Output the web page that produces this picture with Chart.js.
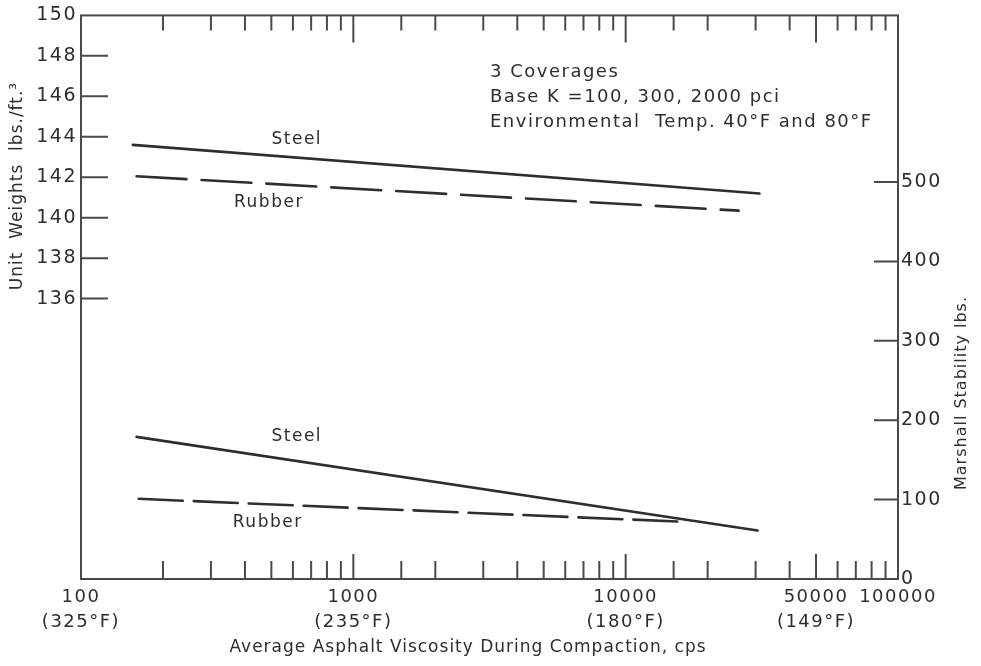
<!DOCTYPE html>
<html lang="en">
<head>
<meta charset="UTF-8">
<title>Unit Weight and Marshall Stability vs Asphalt Viscosity</title>
<script src="https://cdn.jsdelivr.net/npm/chart.js"></script>
<style>
  body { margin: 0; background: #fff; }
  canvas { display: block; }
</style>
</head>
<body>
<canvas id="viscChart" width="981" height="666"></canvas>
<script>
// viscosity (cps) at both ends of each line
const weightSteelX = [155, 31000];
const weightSteelY = [143.6, 141.2];      // unit weight, lbs/ft3
const weightRubberX = [160, 26000];
const weightRubberY = [142.05, 140.35];

const stabSteelX = [160, 30500];
const stabSteelY = [179, 61];             // marshall stability, lbs
const stabRubberX = [163, 16500];
const stabRubberY = [101, 72];

// labelled viscosities along the bottom, with the compaction temperature
const xTickValues = [100, 1000, 10000, 50000, 100000];
const xTickLabels = [['100', '(325°F)'], ['1000', '(235°F)'], ['10000', '(180°F)'], ['50000', '(149°F)'], ['100000']];
const weightTicks = [136, 138, 140, 142, 144, 146, 148, 150];
const stabTicks = [0, 100, 200, 300, 400, 500];

const notes = ['3 Coverages', 'Base K =100, 300, 2000 pci', 'Environmental  Temp. 40°F and 80°F'];

const INK = '#2e2e2e';
const FONT = "'DejaVu Sans', sans-serif";

const pts = (xs, ys) => xs.map((x, i) => ({ x: x, y: ys[i] }));

// frame, inward tick marks, notes and axis titles
const frameAndText = {
    id: 'frameAndText',
    beforeDraw(chart) {
        chart.ctx.letterSpacing = '1.5px';
    },
    afterDatasetsDraw(chart) {
        const { ctx, chartArea: a, scales } = chart;
        const x = scales.x, yW = scales.yW, yS = scales.yS;
        ctx.save();
        ctx.strokeStyle = '#4a4a4a';
        ctx.lineWidth = 2;
        ctx.strokeRect(a.left, a.top, a.right - a.left, a.bottom - a.top);

        ctx.beginPath();
        x.ticks.forEach(t => {
            const px = x.getPixelForValue(t.value);
            if (px <= a.left + 1 || px >= a.right - 1) return;
            const major = xTickValues.some(v => Math.abs(v - t.value) < 1e-6 * v);
            ctx.moveTo(px, a.bottom);
            ctx.lineTo(px, a.bottom - (major ? 25 : 18));
            ctx.moveTo(px, a.top);
            ctx.lineTo(px, a.top + (major ? 27 : 15));
        });
        weightTicks.forEach(v => {
            const py = yW.getPixelForValue(v);
            if (py <= a.top + 1) return;
            ctx.moveTo(a.left, py);
            ctx.lineTo(a.left + 27, py);
        });
        stabTicks.forEach(v => {
            const py = yS.getPixelForValue(v);
            if (py >= a.bottom - 1) return;
            ctx.moveTo(a.right, py);
            ctx.lineTo(a.right - 24, py);
        });
        ctx.stroke();

        ctx.fillStyle = INK;
        ctx.letterSpacing = '1.5px';
        ctx.font = '17px ' + FONT;
        ctx.textBaseline = 'middle';

        // curve names, placed in data units
        ctx.textAlign = 'center';
        ctx.fillText('Steel', x.getPixelForValue(620), yW.getPixelForValue(143.85));
        ctx.fillText('Rubber', x.getPixelForValue(490), yW.getPixelForValue(140.75));
        ctx.fillText('Steel', x.getPixelForValue(620), yS.getPixelForValue(179));
        ctx.fillText('Rubber', x.getPixelForValue(485), yS.getPixelForValue(71));

        ctx.font = '18px ' + FONT;
        ctx.textAlign = 'left';
        notes.forEach((s, i) => ctx.fillText(s, 490, 72 + i * 25));

        ctx.font = '17px ' + FONT;
        ctx.letterSpacing = '1px';
        ctx.textAlign = 'center';
        ctx.fillText('Average Asphalt Viscosity During Compaction, cps', 468, 648);

        ctx.save();
        ctx.translate(18, 186);
        ctx.rotate(-Math.PI / 2);
        ctx.fillText('Unit  Weights  lbs./ft.³', 0, 0);
        ctx.restore();

        ctx.save();
        ctx.translate(962, 393);
        ctx.rotate(-Math.PI / 2);
        ctx.font = '16px ' + FONT;
        ctx.fillText('Marshall Stability lbs.', 0, 0);
        ctx.restore();

        ctx.restore();
    }
};

new Chart(document.getElementById('viscChart'), {
    type: 'line',
    data: {
        datasets: [
            { data: pts(weightSteelX, weightSteelY), yAxisID: 'yW' },
            { data: pts(weightRubberX, weightRubberY), yAxisID: 'yW', borderDash: [50, 15] },
            { data: pts(stabSteelX, stabSteelY), yAxisID: 'yS' },
            { data: pts(stabRubberX, stabRubberY), yAxisID: 'yS', borderDash: [44, 11] }
        ]
    },
    options: {
        responsive: false,
        animation: false,
        devicePixelRatio: 1,
        layout: { padding: { top: 12 } },
        elements: {
            line: { borderColor: INK, borderWidth: 2.6, tension: 0, borderCapStyle: 'round' },
            point: { radius: 0 }
        },
        plugins: { legend: { display: false }, tooltip: { enabled: false } },
        scales: {
            x: {
                type: 'logarithmic',
                min: 100,
                max: 100000,
                grid: { display: false, drawTicks: false },
                border: { display: false },
                afterFit: s => { s.height = 87; },
                ticks: {
                    autoSkip: false,
                    maxRotation: 0,
                    padding: 6,
                    color: INK,
                    font: { family: FONT, size: 18, lineHeight: 1.4 },
                    callback: v => {
                        const i = xTickValues.findIndex(t => Math.abs(t - v) < 1e-6 * t);
                        return i < 0 ? '' : xTickLabels[i];
                    }
                }
            },
            yW: {
                position: 'left',
                min: 122.14,
                max: 150,
                grid: { display: false, drawTicks: false },
                border: { display: false },
                afterFit: s => { s.width = 81; },
                afterBuildTicks: s => { s.ticks = weightTicks.map(v => ({ value: v })); },
                ticks: { padding: 4, color: INK, font: { family: FONT, size: 19 } }
            },
            yS: {
                position: 'right',
                min: 0,
                max: 710,
                grid: { display: false, drawTicks: false },
                border: { display: false },
                afterFit: s => { s.width = 83; },
                afterBuildTicks: s => { s.ticks = stabTicks.map(v => ({ value: v })); },
                ticks: { padding: 3, color: INK, font: { family: FONT, size: 19 } }
            }
        }
    },
    plugins: [frameAndText]
});
</script>
</body>
</html>
